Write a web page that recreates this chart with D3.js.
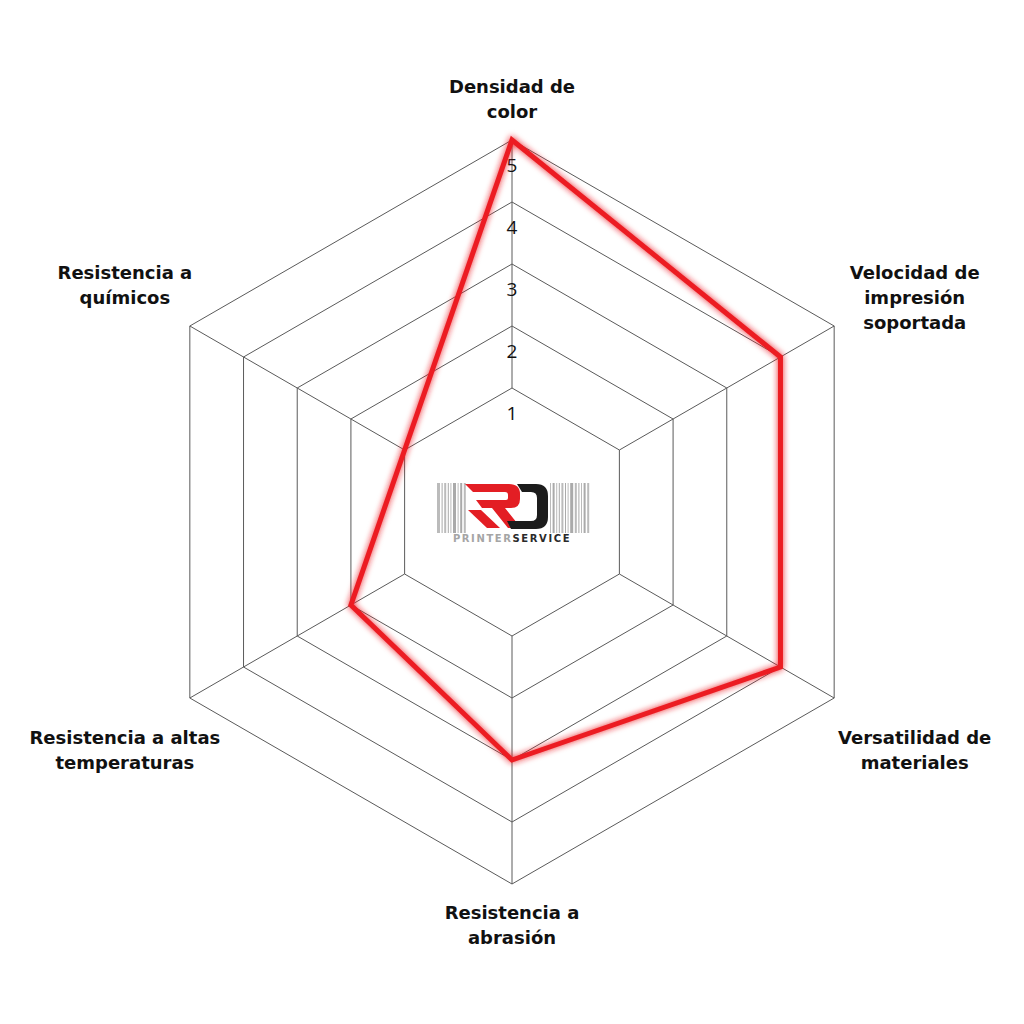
<!DOCTYPE html>
<html><head><meta charset="utf-8">
<script src="https://cdn.jsdelivr.net/npm/d3@7"></script>
<style>body{margin:0;background:#fff}svg{display:block}</style>
</head><body>
<svg id="c" width="1024" height="1024"></svg>
<script>
const categories = [
  ["Densidad de","color"],
  ["Velocidad de","impresión","soportada"],
  ["Versatilidad de","materiales"],
  ["Resistencia a","abrasión"],
  ["Resistencia a altas","temperaturas"],
  ["Resistencia a","químicos"]
];
const values = [5, 4, 4, 3, 2, 1];
const ticks = [1, 2, 3, 4, 5];

const W = 1024, cx = 512, cy = 512;
const svg = d3.select("#c");
const r = d3.scaleLinear().domain([0, 5]).range([62, 372]);
const n = categories.length;
const ang = i => -Math.PI / 2 + i * 2 * Math.PI / n;
const pt = (i, rad) => [cx + rad * Math.cos(ang(i)), cy + rad * Math.sin(ang(i))];

const defs = svg.append("defs");
const f = defs.append("filter").attr("id","glow").attr("x","-20%").attr("y","-20%").attr("width","140%").attr("height","140%");
f.append("feGaussianBlur").attr("in","SourceGraphic").attr("stdDeviation",3).attr("result","b");
const m = f.append("feMerge");
m.append("feMergeNode").attr("in","b");
m.append("feMergeNode").attr("in","SourceGraphic");

// grid rings
const line = d3.line();
svg.append("g").selectAll("path").data(ticks).join("path")
  .attr("d", v => line(d3.range(n).map(i => pt(i, r(v)))) + "Z")
  .attr("fill","none").attr("stroke","#5a5a5a").attr("stroke-width",1);
// spokes
svg.append("g").selectAll("line").data(d3.range(n)).join("line")
  .attr("x1", i => pt(i, r(ticks[0]))[0]).attr("y1", i => pt(i, r(ticks[0]))[1])
  .attr("x2", i => pt(i, r(5))[0]).attr("y2", i => pt(i, r(5))[1])
  .attr("stroke","#5a5a5a").attr("stroke-width",1);

// tick labels
svg.append("g").selectAll("text").data(ticks).join("text")
  .attr("x", cx).attr("y", v => cy - r(v) + 25)
  .attr("text-anchor","middle").attr("dominant-baseline","central")
  .attr("font-family","'Open Sans', sans-serif").attr("font-size",19)
  .attr("fill","#111").text(v => v);

// logo
const logo = svg.append("g");
const barPattern = [3,1,2,1,1,3,1,2,2,1,1,2,3,1,1,2,1,1,2,1];
let bx = 437;
barPattern.forEach((w, k) => {
  if (bx < 466) logo.append("rect").attr("x", bx).attr("y", 483).attr("width", w).attr("height", 50).attr("fill", k % 2 ? "#aaa" : "#bbb");
  bx += w + 1.6;
});
bx = 550;
barPattern.slice().reverse().forEach((w, k) => {
  if (bx < 588) logo.append("rect").attr("x", bx).attr("y", 483).attr("width", w).attr("height", 50).attr("fill", k % 2 ? "#aaa" : "#bbb");
  bx += w + 1.6;
});
logo.append("path").attr("fill","#e31e24")
  .attr("d","M465,484 L509,484 Q520,484 520,494 L520,499 Q520,508 511,508 L505,508 L521,528 L508,528 L492,508 L482,508 L476,500 L506,500 Q508,500 508,498 L508,495 Q508,492 505,492 L473,492 Z");
logo.append("path").attr("fill","#e31e24")
  .attr("d","M468,510 L481,510 L500,528 L487,528 Z");
logo.append("path").attr("fill","#1c1c1c").attr("fill-rule","evenodd")
  .attr("d","M517,484 L536,484 Q548,484 548,496 L548,517 Q548,529 536,529 L511,529 L507,521 L531,521 Q537,521 537,515 L537,498 Q537,492 531,492 L522,492 Z");
const lt = logo.append("text").attr("x", 512).attr("y", 538)
  .attr("text-anchor","middle").attr("dominant-baseline","central")
  .attr("font-family","'DejaVu Sans', sans-serif").attr("font-weight","bold").attr("font-size",10).attr("letter-spacing",1.6);
lt.append("tspan").attr("fill","#a5a5a5").text("PRINTER");
lt.append("tspan").attr("fill","#2a2a2a").text("SERVICE");

// data polygon
svg.append("path")
  .attr("d", line(values.map((v, i) => pt(i, r(v)))) + "Z")
  .attr("fill","none").attr("stroke","#ec1c24").attr("stroke-width",5)
  .attr("stroke-linejoin","miter").attr("filter","url(#glow)");

// category labels
const lh = 25;
categories.forEach((lines, i) => {
  const a = ang(i);
  const c = Math.cos(a);
  let x, y0;
  if (Math.abs(c) < 0.01) {
    const p = pt(i, 413);
    x = p[0];
    y0 = p[1] - (lines.length - 1) * lh / 2;
  } else {
    const p = pt(i, c > 0 ? 465 : 447);
    x = p[0];
    y0 = pt(i, 465)[1] - 7;
  }
  const t = svg.append("text").attr("text-anchor","middle")
    .attr("font-family","'DejaVu Sans', sans-serif").attr("font-weight","bold")
    .attr("font-size",18).attr("fill","#111");
  lines.forEach((L, k) => t.append("tspan").attr("x", x).attr("y", y0 + k * lh)
    .attr("dominant-baseline","central").text(L));
});
</script>
</body></html>
